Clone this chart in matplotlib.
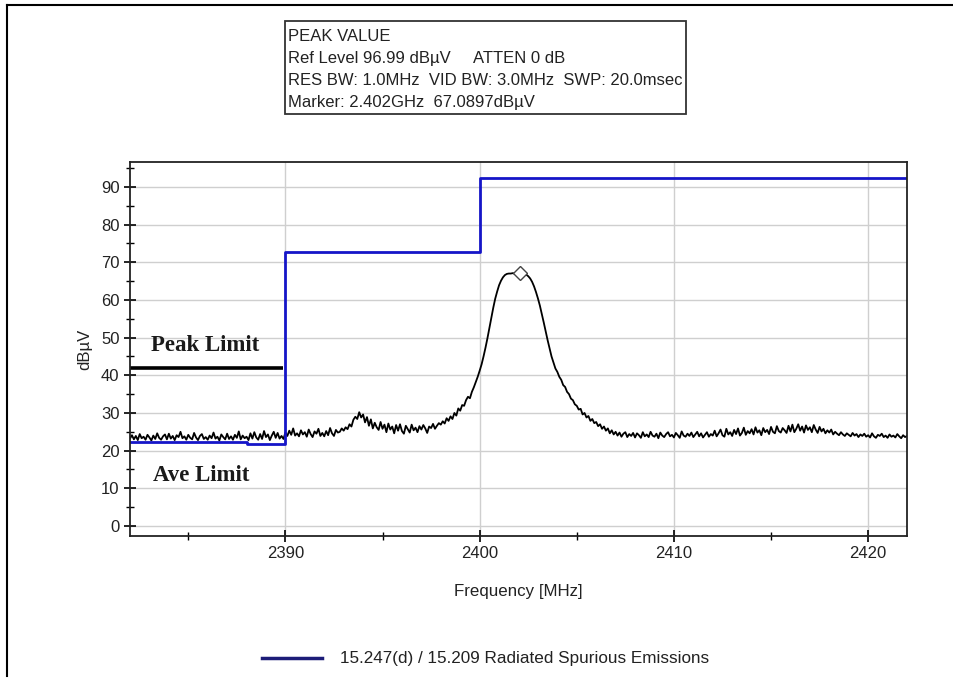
import matplotlib
matplotlib.use("Agg")
import matplotlib.pyplot as plt
from matplotlib.lines import Line2D
from matplotlib.patches import Rectangle
import numpy as np

# ---------------- data ----------------
freq_start = 2382.0
freq_step = 0.1
trace_level = [
    23.2, 24.1, 23.0, 23.9, 22.8, 24.4, 23.3, 23.7, 22.9, 24.2,
    23.5, 22.7, 24.0, 23.1, 24.6, 23.4, 22.9, 23.8, 24.3, 23.0,
    24.5, 23.2, 23.9, 22.8, 24.1, 23.6, 25.0, 23.3, 23.8, 22.9,
    24.2, 23.4, 23.0, 24.7, 23.5, 22.8, 23.9, 24.4, 23.1, 23.6,
    22.9, 24.0, 23.3, 24.8, 23.2, 23.7, 22.7, 24.3, 23.6, 23.0,
    24.5, 23.1, 23.8, 22.9, 24.2, 23.4, 25.1, 23.0, 24.0, 23.3,
    23.7, 22.8, 24.6, 23.2, 24.9, 23.5, 22.9, 24.4, 23.1, 25.2,
    23.6, 24.3, 22.8, 24.0, 25.0, 23.4, 24.7, 23.2, 23.9, 23.1,
    24.8, 23.9, 25.3, 24.2, 25.9, 24.0, 24.6, 23.8, 25.4, 24.3,
    24.9, 23.7, 25.6, 24.4, 23.6, 25.1, 24.5, 25.8, 23.9, 24.7,
    23.8, 25.2, 24.1, 26.0, 24.6, 23.9, 25.5, 24.8, 25.0, 25.9,
    25.3, 26.2, 25.7, 27.0, 26.4, 28.2, 29.0, 28.4, 30.2, 28.8,
    29.6, 27.5, 28.9, 26.6, 28.3, 25.9, 27.4, 26.2, 25.5, 27.6,
    25.8, 26.9, 24.9, 27.2, 25.6, 26.4, 24.6, 26.8, 25.3, 27.0,
    25.2, 24.5, 26.6, 25.7, 24.8, 26.9, 25.4, 26.1, 24.9, 26.5,
    25.6, 26.8, 25.9, 24.7, 26.4, 26.0, 27.1, 25.8, 26.6, 27.3,
    26.9, 27.8, 27.2, 28.6, 27.9, 29.1, 28.4, 30.0, 29.3, 31.2,
    30.6, 32.1, 31.9, 33.4, 34.3, 33.9, 35.6, 36.8, 38.2, 39.6,
    41.2, 42.9, 45.0, 47.3, 49.8, 52.5, 55.2, 57.9, 60.3, 62.2,
    63.9, 65.1, 66.0, 66.6, 66.9, 67.0, 67.0, 67.1, 67.0, 67.1,
    67.0, 67.1, 67.0, 66.9, 66.7, 66.3, 65.7, 64.8, 63.6, 62.1,
    60.4, 58.5, 56.3, 54.0, 51.6, 49.3, 47.1, 45.0, 43.4, 41.8,
    40.9, 39.6, 38.8, 37.4, 36.9, 35.6, 35.0, 33.8, 33.4, 32.3,
    31.9, 30.9, 31.1, 29.6, 30.0, 28.8, 29.2, 27.9, 28.4, 27.3,
    27.6, 26.5, 27.0, 25.8, 26.4, 25.3, 25.9, 24.6, 25.4, 24.3,
    25.0, 24.0, 24.8, 23.7, 24.5, 24.9, 23.6, 24.4, 23.9, 24.7,
    23.5, 24.6, 24.1, 23.4, 24.9, 23.8, 24.3, 23.6, 25.0, 24.0,
    23.7, 24.5, 23.3, 24.8, 24.0, 23.6, 24.4, 24.9, 23.8, 24.2,
    23.5, 24.7, 24.1, 23.4, 25.1, 24.0, 23.7, 24.5, 23.9, 24.8,
    23.6, 24.3, 25.0, 23.8, 24.6, 23.5, 24.2, 24.9, 23.7, 24.4,
    24.0, 25.3, 23.8, 24.6, 25.6, 24.1, 23.7, 25.8, 24.3, 24.9,
    23.9, 25.5, 24.4, 25.9, 24.0, 24.7, 26.1, 24.2, 25.2, 24.6,
    25.7, 24.3, 26.2, 24.8, 25.4, 24.1, 26.0, 24.9, 25.5, 24.4,
    26.3, 25.0, 24.6, 26.5, 25.2, 24.8, 26.0, 25.4, 24.7, 26.6,
    25.1, 26.9, 24.9, 25.8, 27.0, 25.3, 26.4, 24.8, 26.7, 25.5,
    26.2, 24.9, 26.8, 25.6, 24.7, 26.3, 25.1, 25.8, 24.6, 25.4,
    24.8, 25.6, 24.3, 25.0, 24.5, 24.1, 24.9, 24.3, 23.9, 24.6,
    24.2, 23.8, 24.7, 24.0, 24.4, 23.6, 24.3, 23.9, 24.5, 23.7,
    24.1, 23.5, 24.6, 23.8, 23.4, 24.2, 23.9, 24.5, 23.6, 24.0,
    23.4, 24.3, 23.7, 24.0, 23.5, 24.4, 23.8, 23.3, 24.1, 23.6,
    23.9,
]
trace_freq = [freq_start + i * freq_step for i in range(len(trace_level))]

limit_freq = [2382, 2388, 2388, 2390, 2390, 2400, 2400, 2422]
limit_level = [22.4, 22.4, 21.7, 21.7, 72.7, 72.7, 92.3, 92.3]

peak_limit_freq = [2382, 2389.9]
peak_limit_level = [42, 42]

marker_freq = 2402.1
marker_level = 67.1

x_ticks = [2390, 2400, 2410, 2420]
y_ticks = [0, 10, 20, 30, 40, 50, 60, 70, 80, 90]

header_lines = [
    "PEAK VALUE",
    "Ref Level 96.99 dB\u00b5V     ATTEN 0 dB",
    "RES BW: 1.0MHz  VID BW: 3.0MHz  SWP: 20.0msec",
    "Marker: 2.402GHz  67.0897dB\u00b5V",
]
legend_label = "15.247(d) / 15.209 Radiated Spurious Emissions"

# ---------------- figure ----------------
plt.rcParams['font.family'] = ['Liberation Sans', 'DejaVu Sans']
W, H = 954, 681
fig = plt.figure(figsize=(W / 100, H / 100), dpi=100)
fig.patch.set_facecolor('white')

# outer frame lines (left + top)
fig.add_artist(Line2D([7 / W, 7 / W], [1 - 5 / H, 1 - 676 / H], color='black', lw=1.5))
fig.add_artist(Line2D([7 / W, 1.0], [1 - 5 / H, 1 - 5 / H], color='black', lw=1.5))

ax = fig.add_axes([130 / W, 1 - 536 / H, (907 - 130) / W, (536 - 162) / H])
ax.set_xlim(2382, 2422)
ax.set_ylim(-2.65, 96.6)

ax.set_xticks(x_ticks)
ax.set_yticks(y_ticks)
ax.set_xticks([2385, 2395, 2405, 2415], minor=True)
ax.set_yticks(np.arange(5, 96, 10), minor=True)
ax.grid(True, which='major', color='#cfcfcf', lw=1.0)
ax.set_axisbelow(True)
ax.tick_params(axis='both', which='both', direction='inout', color='black',
               labelsize=12, labelcolor='#222222')
ax.tick_params(axis='both', which='major', length=8, width=1.2)
ax.tick_params(axis='both', which='minor', length=6, width=1.0)
for s in ax.spines.values():
    s.set_linewidth(1.3)
    s.set_color('#222222')

ax.plot(trace_freq, trace_level, color='black', lw=1.3)
line_limit, = ax.plot(limit_freq, limit_level, color='#1515c8', lw=2.0)
ax.plot(peak_limit_freq, peak_limit_level, color='black', lw=2.6, solid_capstyle='butt')
ax.plot([marker_freq], [marker_level], marker='D', ms=7, mfc='white',
        mec='#444444', mew=1.0, ls='none')

ax.text(2383.1, 48, "Peak Limit", family=['Liberation Serif'], weight='bold',
        fontsize=16.5, va='center', ha='left', color='#1a1a1a')
ax.text(2383.2, 13.5, "Ave Limit", family=['Liberation Serif'], weight='bold',
        fontsize=16.5, va='center', ha='left', color='#1a1a1a')

ax.set_ylabel("dB\u00b5V", fontsize=12, color='#222222', labelpad=6)
ax.set_xlabel("Frequency [MHz]", fontsize=12.2, color='#222222', labelpad=16)

# header box
fig.add_artist(Rectangle((285 / W, 1 - 114 / H), (686 - 285) / W, (114 - 21) / H,
                         fill=False, ec='#333333', lw=1.3, transform=fig.transFigure))
for i, t in enumerate(header_lines):
    fig.text(288 / W, 1 - (36.5 + 22 * i) / H, t, fontsize=12, va='center',
             ha='left', color='#222222')

# legend
fig.add_artist(Line2D([262 / W, 322 / W], [1 - 658 / H, 1 - 658 / H],
                      color='#1c1c78', lw=2.5))
fig.text(340 / W, 1 - 658 / H, legend_label, fontsize=12.3, va='center',
         ha='left', color='#222222')

fig.savefig("out.png", dpi=100)
